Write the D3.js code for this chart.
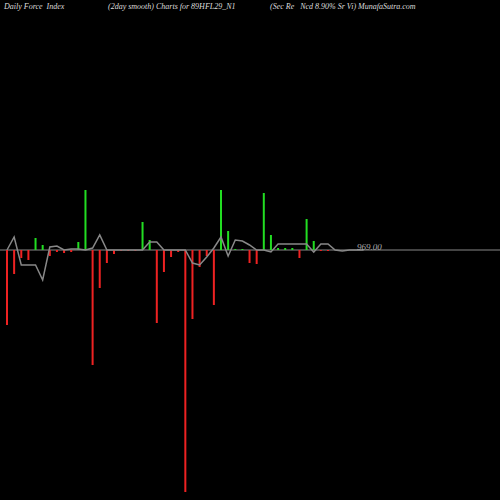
<!DOCTYPE html>
<html><head><meta charset="utf-8">
<script src="https://cdn.jsdelivr.net/npm/d3@7"></script>
<style>body{margin:0;background:#000}</style></head>
<body><svg id="c" width="500" height="500"></svg>
<script>
// bar values (pixel-scale force units, positive = up)
const forceValues = [-75,-24,-8,-10,12,5,-6,-2,-3,-2,8,60,-115,-38,-13,-4,-1,0,0,28,10,-73,-22,-7,-2,-242,-69,-17,-6,-55,60,19,1,1,-13,-14,57,15,2,2,2,-8,31,9,-1,-1];
const smoothValues = [0,13,-15,-15,-15,-30,3,4,0,1,1,0,2,15,0,0,0,0,0,0,8,8,0,0,0,0,-13,-15,-7,2,13,-6,10,9,5,0,0,-2,6,6,6,6,6,-2,6,6,0,-1,0,0,0];
const lastLabel = "969.00";
const titles = [["Daily Force  Index",4],["(2day smooth) Charts for 89HFL29_N1",108],["(Sec Re   Ncd 8.90% Sr Vi) MunafaSutra.com",270]];

const svg = d3.select("#c");
const x = d3.scaleLinear().domain([0, 45]).range([7, 328]);
const y = d3.scaleLinear().domain([-100, 100]).range([350, 150]);
svg.append("line").attr("x1",0).attr("x2",500).attr("y1",y(0)).attr("y2",y(0)).attr("stroke","#888").attr("stroke-width",1.2);
svg.selectAll("rect.b").data(forceValues).enter().append("rect")
  .attr("x",(d,i)=>x(i)-1).attr("width",2)
  .attr("y",d=>d>0?y(d):y(0)).attr("height",d=>Math.max(1,Math.abs(y(d)-y(0))))
  .attr("fill",d=>d>0?"#22dd22":"#ee2222");
svg.append("path").datum(smoothValues)
  .attr("d",d3.line().x((d,i)=>x(i)).y(d=>y(d)))
  .attr("fill","none").attr("stroke","#888").attr("stroke-width",1.5);
svg.append("text").attr("x",357).attr("y",y(0)-0.5).attr("fill","#aaa").attr("font-family","Liberation Serif").attr("font-style","italic").attr("font-size",9).text(lastLabel);
svg.selectAll("text.t").data(titles).enter().append("text").attr("x",d=>d[1]).attr("y",9)
  .attr("fill","#ddd").attr("font-family","Liberation Serif").attr("font-style","italic").attr("font-size",8).style("white-space","pre").text(d=>d[0]);
</script></body></html>
